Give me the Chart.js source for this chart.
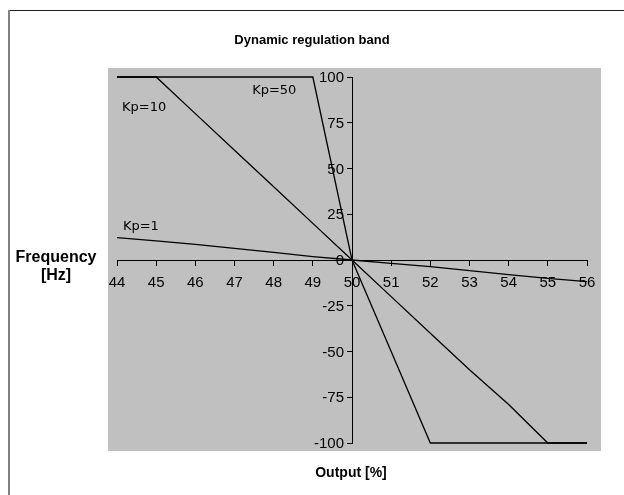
<!DOCTYPE html>
<html>
<head>
<meta charset="utf-8">
<script src="https://cdn.jsdelivr.net/npm/chart.js@4/dist/chart.umd.min.js"></script>
<style>
  html, body { margin: 0; padding: 0; background: #fff; }
  #wrap { width: 624px; height: 495px; position: relative; }
</style>
</head>
<body>
<div id="wrap"><canvas id="c"></canvas></div>
<script>
// output [%] positions along the axis
const output = [44, 45, 46, 47, 48, 49, 50, 51, 52, 53, 54, 55, 56];
// frequency values for each gain
const kp1 = [12.2, 10.5, 8.5, 6.3, 4.2, 1.9, 0, -1.8, -3.6, -5.8, -8, -10, -11.8];
const kp10 = [100, 100, 80, 60, 40, 20, 0, -20, -40, -60, -79, -100, -100];
const kp50 = [100, 100, 100, 100, 100, 100, 0, -50, -100, -100, -100, -100, -100];

const seriesNames = ['Kp=1', 'Kp=10', 'Kp=50'];
// where the line labels sit, in data units (left edge, middle)
const labelX = [44.15, 44.13, 47.45];
const labelY = [18, 83, 92.5];

const titleText = 'Dynamic regulation band';
const yTitle = ['Frequency', '[Hz]'];
const xTitle = 'Output [%]';

const tickFont = '15px "Liberation Sans", Arial, sans-serif';

const toPts = (ys) => output.map((x, i) => ({ x: x, y: ys[i] }));

const decor = {
    id: 'decor',
    beforeDraw(chart) {
        const ctx = chart.ctx;
        const a = chart.chartArea;
        ctx.save();
        ctx.fillStyle = '#c0c0c0';
        ctx.fillRect(a.left - 9, a.top - 9, (a.right + 14) - (a.left - 9), (a.bottom + 8) - (a.top - 9));
        ctx.restore();
    },
    afterDraw(chart) {
        const ctx = chart.ctx;
        const xs = chart.scales.x, ys = chart.scales.y;
        ctx.save();
        // outer frame
        ctx.strokeStyle = '#222';
        ctx.lineWidth = 1;
        ctx.beginPath();
        ctx.moveTo(8, 10.5);
        ctx.lineTo(624, 10.5);
        ctx.stroke();
        ctx.strokeStyle = '#808080';
        ctx.lineWidth = 2;
        ctx.beginPath();
        ctx.moveTo(9, 10);
        ctx.lineTo(9, 495);
        ctx.stroke();

        // y tick labels, left of the crossing axis
        const axisX = xs.getPixelForValue(50);
        ctx.fillStyle = '#000';
        ctx.font = tickFont;
        ctx.textAlign = 'right';
        ctx.textBaseline = 'middle';
        ys.ticks.forEach(t => {
            ctx.fillText(String(t.value), axisX - 8, ys.getPixelForValue(t.value) + 1);
        });

        ctx.textAlign = 'center';
        ctx.font = 'bold 13px "Liberation Sans", Arial, sans-serif';
        ctx.fillText(titleText, 312, 40);
        ctx.font = 'bold 16px "Liberation Sans", Arial, sans-serif';
        ctx.fillText(yTitle[0], 56, 258);
        ctx.fillText(yTitle[1], 56, 276);
        ctx.font = 'bold 14px "Liberation Sans", Arial, sans-serif';
        ctx.fillText(xTitle, 351, 473);

        ctx.textAlign = 'left';
        ctx.font = '13px "DejaVu Sans", sans-serif';
        seriesNames.forEach((n, i) => {
            ctx.fillText(n, xs.getPixelForValue(labelX[i]), ys.getPixelForValue(labelY[i]));
        });
        ctx.restore();
    }
};

const lineStyle = {
    borderColor: '#000',
    borderWidth: 1.3,
    pointRadius: 0,
    tension: 0,
    fill: false,
    clip: false
};

new Chart(document.getElementById('c').getContext('2d'), {
    type: 'line',
    data: {
        datasets: [
            Object.assign({ label: seriesNames[0], data: toPts(kp1) }, lineStyle),
            Object.assign({ label: seriesNames[1], data: toPts(kp10) }, lineStyle),
            Object.assign({ label: seriesNames[2], data: toPts(kp50) }, lineStyle)
        ]
    },
    options: {
        responsive: true,
        maintainAspectRatio: false,
        animation: false,
        layout: { padding: { left: 117, right: 37, top: 77, bottom: 52 } },
        plugins: {
            legend: { display: false },
            tooltip: { enabled: false }
        },
        scales: {
            x: {
                type: 'linear',
                position: { y: 0 },
                min: 44,
                max: 56,
                grid: { drawOnChartArea: false, tickLength: 5, color: '#000' },
                border: { color: '#000', width: 1 },
                ticks: {
                    stepSize: 1,
                    color: '#000',
                    padding: 9,
                    maxRotation: 0,
                    font: { family: '"Liberation Sans", Arial, sans-serif', size: 15 }
                }
            },
            y: {
                type: 'linear',
                position: { x: 50 },
                min: -100,
                max: 100,
                grid: { drawOnChartArea: false, tickLength: 5, color: '#000' },
                border: { color: '#000', width: 1 },
                ticks: {
                    display: false,
                    stepSize: 25
                }
            }
        }
    },
    plugins: [decor]
});
</script>
</body>
</html>
